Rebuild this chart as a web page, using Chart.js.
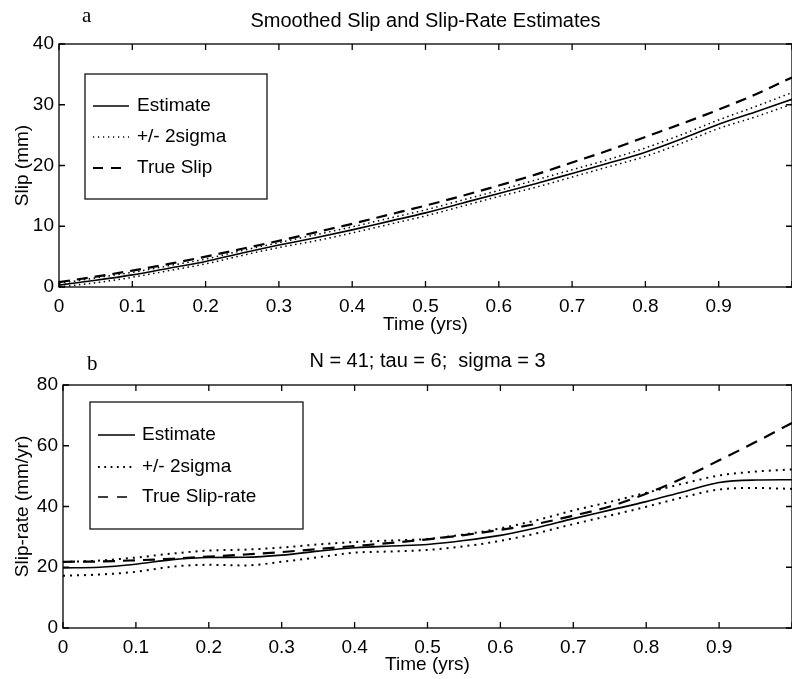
<!DOCTYPE html>
<html>
<head>
<meta charset="utf-8">
<title>Smoothed Slip and Slip-Rate Estimates</title>
<script src="https://cdn.jsdelivr.net/npm/chart.js@4.4.0/dist/chart.umd.min.js"></script>
<style>
  body {
    margin: 0;
    background: #fff;
    width: 792px;
    height: 679px;
    overflow: hidden;
    position: relative;
  }
  canvas {
    position: absolute;
    left: 0;
    display: block;
  }
</style>
</head>
<body>

<canvas id="slipChart" width="800" height="340" style="top:0"></canvas>
<canvas id="rateChart" width="800" height="339" style="top:340px"></canvas>

<script>
// time axis (yrs)
const times = [0, 0.05, 0.1, 0.15, 0.2, 0.25, 0.3, 0.35, 0.4, 0.45, 0.5,
               0.55, 0.6, 0.65, 0.7, 0.75, 0.8, 0.85, 0.9, 0.95, 1.0];

// panel a - slip (mm)
const slipEstimate = [0.3, 1.1, 2.0, 3.1, 4.2, 5.6, 6.9, 8.1, 9.4, 10.8, 12.2,
                      13.8, 15.4, 17.0, 18.7, 20.4, 22.2, 24.4, 26.8, 28.8, 30.9];
const slipUpper    = [0.6, 1.5, 2.4, 3.5, 4.6, 6.0, 7.3, 8.6, 9.9, 11.3, 12.7,
                      14.3, 15.9, 17.6, 19.3, 21.0, 22.9, 25.1, 27.5, 29.7, 32.0];
const slipLower    = [0.0, 0.7, 1.6, 2.7, 3.8, 5.2, 6.5, 7.6, 8.9, 10.3, 11.7,
                      13.3, 14.9, 16.4, 18.1, 19.8, 21.5, 23.7, 26.1, 28.0, 30.1];
const slipTrue     = [0.8, 1.7, 2.7, 3.8, 5.0, 6.3, 7.6, 9.0, 10.4, 11.9, 13.4,
                      15.0, 16.7, 18.5, 20.5, 22.5, 24.7, 26.9, 29.2, 31.7, 34.5];

// panel b - slip-rate (mm/yr)
const rateEstimate = [19.8, 20.0, 21.0, 22.5, 23.2, 23.3, 24.0, 25.3, 26.4, 27.0, 27.5,
                      28.8, 30.5, 33.0, 36.0, 38.8, 41.6, 44.8, 47.9, 48.7, 48.8];
const rateUpper    = [21.7, 22.2, 23.2, 24.5, 25.5, 25.8, 26.5, 27.5, 28.3, 28.8, 29.3,
                      30.8, 32.8, 35.5, 38.7, 41.5, 44.5, 47.5, 50.2, 51.5, 52.2];
const rateLower    = [17.2, 17.6, 18.5, 20.2, 20.8, 20.6, 21.8, 23.3, 24.8, 25.2, 25.7,
                      26.9, 28.7, 31.2, 34.2, 37.0, 39.9, 43.0, 45.6, 46.1, 45.8];
const rateTrue     = [21.8, 21.9, 22.3, 22.8, 23.5, 24.2, 25.0, 26.0, 27.0, 28.0, 29.2,
                      30.6, 32.3, 34.3, 37.0, 40.0, 44.2, 49.3, 55.2, 61.2, 67.5];

const slipTicks = [0, 10, 20, 30, 40];
const rateTicks = [0, 20, 40, 60, 80];

Chart.defaults.font.family = '"Liberation Sans", Arial, Helvetica, sans-serif';
Chart.defaults.color = '#000';

function pts(ys) {
  return times.map((t, i) => ({x: t, y: ys[i]}));
}

// box around the axes with matlab style inward ticks
const frameTicks = {
  id: 'frameTicks',
  afterDraw(chart) {
    const {ctx, chartArea: a, scales: {x, y}} = chart;
    const len = 6;
    ctx.save();
    ctx.strokeStyle = '#000';
    ctx.lineWidth = 1.3;
    ctx.strokeRect(a.left, a.top, a.right - a.left, a.bottom - a.top);
    ctx.beginPath();
    x.ticks.forEach(t => {
      const px = x.getPixelForValue(t.value);
      ctx.moveTo(px, a.bottom); ctx.lineTo(px, a.bottom - len);
      ctx.moveTo(px, a.top); ctx.lineTo(px, a.top + len);
    });
    y.ticks.forEach(t => {
      const py = y.getPixelForValue(t.value);
      ctx.moveTo(a.left, py); ctx.lineTo(a.left + len, py);
      ctx.moveTo(a.right, py); ctx.lineTo(a.right - len, py);
    });
    ctx.stroke();
    ctx.restore();
  }
};

// legend box drawn inside the plot area
const boxLegend = {
  id: 'boxLegend',
  afterDraw(chart, args, opts) {
    const {ctx, chartArea: a} = chart;
    const bx = a.left + opts.x, by = a.top + opts.y;
    ctx.save();
    ctx.fillStyle = '#fff';
    ctx.fillRect(bx, by, opts.w, opts.h);
    ctx.strokeStyle = '#000';
    ctx.lineWidth = 1.2;
    ctx.strokeRect(bx, by, opts.w, opts.h);
    ctx.font = opts.font;
    ctx.textBaseline = 'middle';
    let i = 0;
    chart.data.datasets.forEach(ds => {
      if (ds.inLegend === false) return;
      const ry = by + opts.rows[i++];
      ctx.beginPath();
      ctx.setLineDash(ds.legendDash || ds.borderDash || []);
      ctx.lineWidth = ds.legendWidth || ds.borderWidth;
      ctx.strokeStyle = ds.borderColor;
      ctx.moveTo(bx + opts.sample[0], ry);
      ctx.lineTo(bx + opts.sample[1], ry);
      ctx.stroke();
      ctx.setLineDash([]);
      ctx.fillStyle = '#000';
      ctx.fillText(ds.label, bx + opts.textX, ry);
    });
    ctx.restore();
  }
};

// the little "a" / "b" panel letters
const panelLetter = {
  id: 'panelLetter',
  afterDraw(chart, args, opts) {
    const ctx = chart.ctx;
    ctx.save();
    ctx.font = '21px "Liberation Serif", "Times New Roman", serif';
    ctx.fillStyle = '#000';
    ctx.textBaseline = 'alphabetic';
    ctx.fillText(opts.text, opts.x, opts.y);
    ctx.restore();
  }
};

function makeChart(id, cfg) {
  return new Chart(document.getElementById(id), {
    type: 'line',
    data: {
      datasets: [
        { label: 'Estimate', data: pts(cfg.est), borderColor: '#000', borderWidth: 1.6 },
        { label: '+/- 2sigma', data: pts(cfg.up), borderColor: '#000',
          borderWidth: cfg.dotWidth, borderDash: cfg.dots, legendDash: cfg.legendDots },
        { label: 'lower', inLegend: false, data: pts(cfg.low), borderColor: '#000',
          borderWidth: cfg.dotWidth, borderDash: cfg.dots },
        { label: cfg.trueLabel, data: pts(cfg.tru), borderColor: '#000',
          borderWidth: 2.2, borderDash: cfg.dashes, legendDash: cfg.legendDashes,
          legendWidth: cfg.legendDashWidth }
      ]
    },
    options: {
      responsive: false,
      animation: false,
      events: [],
      elements: {
        point: { radius: 0 },
        line: { cubicInterpolationMode: 'monotone', borderCapStyle: 'butt' }
      },
      layout: { padding: { left: 0, right: cfg.padRight, top: 0, bottom: 0 } },
      scales: {
        x: {
          type: 'linear',
          min: 0, max: 1,
          grid: { display: false, drawTicks: false },
          border: { display: false },
          afterFit: s => { s.height = cfg.xHeight; },
          ticks: {
            stepSize: 0.1,
            padding: 8,
            maxRotation: 0,
            font: { size: 19 },
            callback: v => (v >= 1 ? '' : String(+v.toFixed(1)))
          },
          title: {
            display: true,
            text: 'Time (yrs)',
            font: { size: 19 },
            padding: { top: 0, bottom: cfg.xTitlePad }
          }
        },
        y: {
          min: 0, max: cfg.yTicks[cfg.yTicks.length - 1],
          grid: { display: false, drawTicks: false },
          border: { display: false },
          afterFit: s => { s.width = cfg.yWidth; },
          afterBuildTicks: s => { s.ticks = cfg.yTicks.map(v => ({value: v})); },
          ticks: { padding: 5, font: { size: 19 } },
          title: {
            display: true,
            text: cfg.yLabel,
            font: { size: 19 },
            padding: { top: 11, bottom: 0 }
          }
        }
      },
      plugins: {
        legend: { display: false },
        tooltip: { enabled: false },
        title: {
          display: true,
          fullSize: false,
          text: cfg.title,
          font: { size: 20, weight: 'normal' },
          padding: cfg.titlePad
        },
        boxLegend: cfg.legend,
        panelLetter: cfg.letter
      }
    },
    plugins: [frameTicks, boxLegend, panelLetter]
  });
}

const slipChart = makeChart('slipChart', {
  est: slipEstimate, up: slipUpper, low: slipLower, tru: slipTrue,
  trueLabel: 'True Slip',
  yLabel: 'Slip (mm)',
  yTicks: slipTicks,
  title: 'Smoothed Slip and Slip-Rate Estimates',
  titlePad: { top: 9, bottom: 11 },
  dots: [1.5, 3.5], legendDots: [1.2, 3.8], dotWidth: 1.5,
  dashes: [11, 7], legendDashes: [10, 8], legendDashWidth: 2.2,
  padRight: 6, yWidth: 59, xHeight: 53, xTitlePad: 4,
  legend: { x: 26, y: 30, w: 182, h: 125, rows: [32, 63, 94], sample: [8, 44], textX: 52,
            font: '19px "Liberation Sans", Arial, sans-serif' },
  letter: { text: 'a', x: 82, y: 22 }
});

const rateChart = makeChart('rateChart', {
  est: rateEstimate, up: rateUpper, low: rateLower, tru: rateTrue,
  trueLabel: 'True Slip-rate',
  yLabel: 'Slip-rate (mm/yr)',
  yTicks: rateTicks,
  title: 'N = 41; tau = 6;  sigma = 3',
  titlePad: { top: 9, bottom: 12 },
  dots: [2, 5], legendDots: [1.8, 4.5], dotWidth: 2,
  dashes: [12, 8], legendDashes: [10, 9], legendDashWidth: 1.3,
  padRight: 3, yWidth: 63, xHeight: 51, xTitlePad: 3,
  legend: { x: 27, y: 17, w: 213, h: 127, rows: [33, 65, 95], sample: [8, 45], textX: 52,
            font: '19px "Liberation Sans", Arial, sans-serif' },
  letter: { text: 'b', x: 87, y: 30 }
});
</script>

</body>
</html>
